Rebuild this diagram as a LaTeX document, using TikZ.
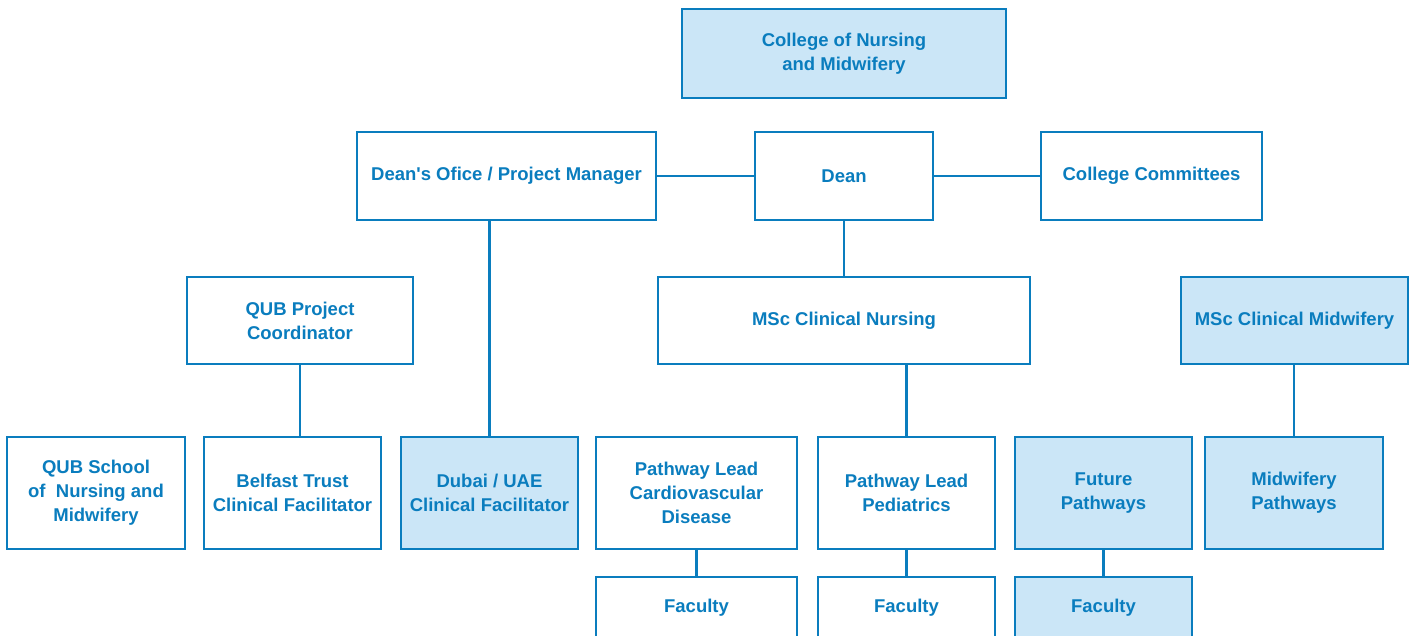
\documentclass[tikz,border=0pt]{standalone}
\usepackage{fontspec}
\setmainfont[Ligatures=TeXOff]{Liberation Sans}
\definecolor{ob}{RGB}{10,125,190}
\definecolor{lb}{RGB}{203,230,247}
\tikzset{
  box/.style={rectangle, draw=ob, line width=2.3pt, text=ob, fill=white,
    font=\bfseries\fontsize{18.5}{24}\selectfont, align=center, inner sep=0pt},
  hl/.style={box, fill=lb},
  conn/.style={draw=ob, line width=2.3pt},
}
\begin{document}
\begin{tikzpicture}[x=1pt,y=-1pt]
\fill[white] (0,0) rectangle (1412,635);
\useasboundingbox (0,0) rectangle (1412,635);
\clip (0,0) rectangle (1412,635);
% level 0
\node[hl, minimum width=324pt, minimum height=89pt] (college) at (844,53.5) {College of Nursing\\and Midwifery};
% level 1
\node[box, minimum width=299pt, minimum height=88pt] (office) at (506.5,176) {Dean's Ofice / Project Manager};
\node[box, minimum width=178pt, minimum height=88pt] (dean) at (844,176) {Dean};
\node[box, minimum width=221pt, minimum height=88pt] (comm) at (1151.5,176) {College Committees};
% level 2
\node[box, minimum width=226pt, minimum height=87pt] (coord) at (300,320.5) {QUB Project\\Coordinator};
\node[box, minimum width=372pt, minimum height=87pt] (nursing) at (844,320.5) {MSc Clinical Nursing};
\node[hl, minimum width=227pt, minimum height=87pt] (midwifery) at (1294.5,320.5) {MSc Clinical Midwifery};
% level 3
\node[box, minimum width=178pt, minimum height=112pt] (qub) at (96,493) {QUB School\\of~ Nursing and\\Midwifery};
\node[box, minimum width=177pt, minimum height=112pt] (belfast) at (292.5,493) {Belfast Trust\\Clinical Facilitator};
\node[hl, minimum width=177pt, minimum height=112pt] (dubai) at (489.5,493) {Dubai / UAE\\Clinical Facilitator};
\node[box, minimum width=201pt, minimum height=112pt] (cvd) at (696.5,493) {Pathway Lead\\Cardiovascular\\Disease};
\node[box, minimum width=177pt, minimum height=112pt] (ped) at (906.5,493) {Pathway Lead\\Pediatrics};
\node[hl, minimum width=177pt, minimum height=112pt] (future) at (1103.5,493) {Future\\Pathways};
\node[hl, minimum width=178pt, minimum height=112pt] (mwpath) at (1294,493) {Midwifery\\Pathways};
% level 4
\node[box, minimum width=201pt, minimum height=62pt] (fac1) at (696.5,608) {Faculty};
\node[box, minimum width=177pt, minimum height=62pt] (fac2) at (906.5,608) {Faculty};
\node[hl, minimum width=177pt, minimum height=62pt] (fac3) at (1103.5,608) {Faculty};
% connectors
\draw[conn] (office.east) -- (dean.west);
\draw[conn] (dean.east) -- (comm.west);
\draw[conn] (dean.south) -- (nursing.north);
\draw[conn] (dubai.north) -- (dubai.north |- office.south);
\draw[conn] (coord.south) -- (coord.south |- belfast.north);
\draw[conn] (ped.north) -- (ped.north |- nursing.south);
\draw[conn] (mwpath.north) -- (mwpath.north |- midwifery.south);
\draw[conn] (cvd.south) -- (fac1.north);
\draw[conn] (ped.south) -- (fac2.north);
\draw[conn] (future.south) -- (fac3.north);
\end{tikzpicture}
\end{document}
